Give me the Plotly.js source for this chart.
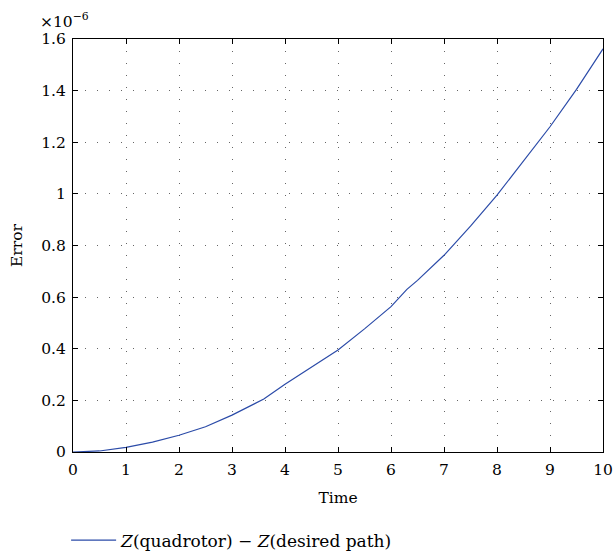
<!DOCTYPE html>
<html>
<head>
<meta charset="utf-8">
<script src="https://cdn.plot.ly/plotly-3.0.1.min.js"></script>
<style>html,body{margin:0;padding:0;background:#fff}#chart{width:613px;height:560px}</style>
</head>
<body>
<div id="chart"></div>
<script>
const timeVals = [0, 0.5, 1, 1.5, 2, 2.5, 3, 3.4, 3.6, 4, 4.5, 5, 5.5, 6, 6.3, 6.5, 7, 7.5, 8, 8.5, 9, 9.5, 10];
const errorVals = [0, 0.004, 0.018, 0.038, 0.065, 0.098, 0.143, 0.186, 0.205, 0.262, 0.330, 0.395, 0.477, 0.563, 0.630, 0.665, 0.762, 0.875, 0.995, 1.128, 1.260, 1.405, 1.562];
const seriesName = "<i>Z</i>(quadrotor) − <i>Z</i>(desired path)";
const xTicks = [0,1,2,3,4,5,6,7,8,9,10];
const yTicks = [0,0.2,0.4,0.6,0.8,1,1.2,1.4,1.6];
const yTickText = ["0","0.2","0.4","0.6","0.8","1","1.2","1.4","1.6"];

const font = {family: "DejaVu Serif, Liberation Serif, serif", size: 15.5, color: "#000"};
const legendFont = {family: "DejaVu Serif, Liberation Serif, serif", size: 17, color: "#000"};
const axisCommon = {
  showline: true, linecolor: "#000", linewidth: 1, mirror: "ticks",
  ticks: "inside", ticklen: 5, tickcolor: "#000", tickwidth: 1,
  showgrid: true, gridcolor: "#666", gridwidth: 1, griddash: "1px,11px",
  zeroline: false, tickfont: font, automargin: false
};
const trace = {
  x: timeVals, y: errorVals, type: "scatter", mode: "lines",
  name: seriesName, line: {color: "#2b4ba8", width: 1.2}
};
const layout = {
  width: 613, height: 560,
  margin: {l: 73, r: 10, t: 39, b: 108},
  paper_bgcolor: "#fff", plot_bgcolor: "#fff",
  font: font,
  showlegend: true,
  legend: {x: -0.013, xanchor: "left", yref: "container", y: 0.067, yanchor: "top", orientation: "h", itemwidth: 45, font: legendFont, bgcolor: "rgba(0,0,0,0)"},
  xaxis: Object.assign({}, axisCommon, {range: [0, 10], tickvals: xTicks, ticklabelstandoff: 3, title: {text: "Time", font: font, standoff: 14}}),
  yaxis: Object.assign({}, axisCommon, {range: [0, 1.6], tickvals: yTicks, ticktext: yTickText, ticklabelstandoff: 3, title: {text: "Error", font: font, standoff: 14}}),
  annotations: [{
    xref: "paper", yref: "paper", x: -0.066, y: 1.015, xanchor: "left", yanchor: "bottom",
    text: "×10<sup>−6</sup>", showarrow: false, font: font
  }]
};
Plotly.newPlot("chart", [trace], layout, {displayModeBar: false, staticPlot: true});
</script>
</body>
</html>
